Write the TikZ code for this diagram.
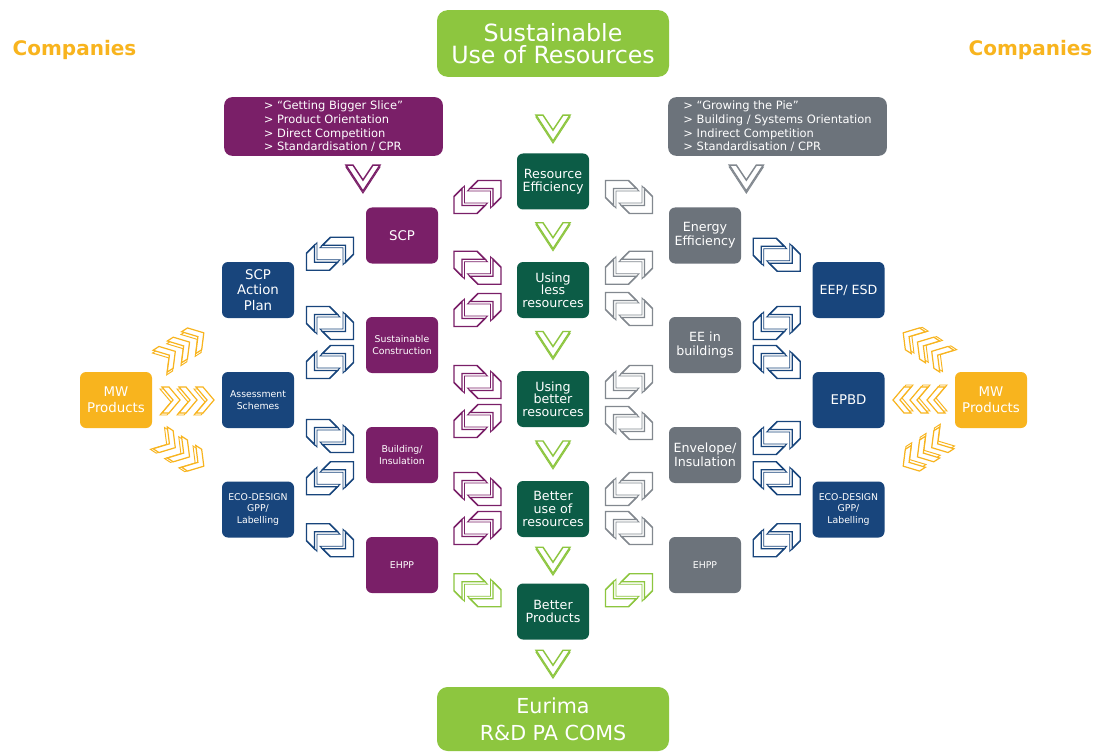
\documentclass[tikz,border=0pt]{standalone}
\usepackage{fontspec}
\setmainfont{DejaVu Sans}
\usetikzlibrary{calc}
\definecolor{cpurple}{RGB}{122,31,104}
\definecolor{cgray}{RGB}{108,115,123}
\definecolor{cgrayl}{RGB}{130,136,143}
\definecolor{cblue}{RGB}{24,69,124}
\definecolor{cdgreen}{RGB}{12,92,70}
\definecolor{clgreen}{RGB}{141,198,63}
\definecolor{corange}{RGB}{248,180,30}
\tikzset{
  bx/.style={rounded corners=4.5pt, minimum width=54pt, minimum height=42pt, inner sep=0pt, text=white, align=center},
  pb/.style={bx, fill=cpurple},
  gb/.style={bx, fill=cgray},
  bb/.style={bx, fill=cblue},
  db/.style={bx, fill=cdgreen},
  ob/.style={bx, fill=corange},
  fc/.style={font=\fontsize{9.5}{9.4}\selectfont},
  fm/.style={font=\fontsize{9.5}{10.5}\selectfont},
  fs/.style={font=\fontsize{7}{8.6}\selectfont},
  bigbox/.style={rounded corners=8pt, fill=clgreen, minimum width=174pt, text=white, align=center, inner sep=0pt},
  topbox/.style={rounded corners=6pt, minimum width=164pt, minimum height=44pt, text=white, align=left, inner sep=0pt, font=\fontsize{8.6}{10.3}\selectfont},
  chv/.style={draw=#1, fill=white, line width=1.1pt, line join=miter},
  shd/.style={draw=#1, fill=white, line width=0.7pt, line join=miter},
}
\newcommand\vchev[2]{%
  \draw[shd=#2] #1 ++(-17,-11) -- ++(7,0) -- ++(10,15) -- ++(10,-15) -- ++(7,0) -- ++(-17,26) -- cycle;
  \draw[chv=#2] #1 ++(-17,-13) -- ++(7,0) -- ++(10,15) -- ++(10,-15) -- ++(7,0) -- ++(-17,26) -- cycle;}
\newcommand\lpiece[1]{%
  \draw[shd=#1] (-2,-14) -- (21,-14) -- (21,3) -- (13,11) -- (13,-6) -- (-10,-6) -- cycle;
  \draw[chv=#1] (0.5,-16.5) -- (23.5,-16.5) -- (23.5,0.5) -- (15.5,8.5) -- (15.5,-8.5) -- (-7.5,-8.5) -- cycle;}
\newcommand\xch[5]{%
  \begin{scope}[shift={($(#1)!.5!(#2)+(0,#5)$)}, xscale=#3]
    \lpiece{#4}
    \begin{scope}[rotate=180]\lpiece{#4}\end{scope}
  \end{scope}}
\newcommand\ochev[1]{%
  \draw[shd=corange] #1 ++(-11,-11) -- ++(7,0) -- ++(11,13) -- ++(-11,13) -- ++(-7,0) -- ++(11,-13) -- cycle;
  \draw[chv=corange, line width=0.9pt] #1 ++(-9,-13) -- ++(7,0) -- ++(11,13) -- ++(-11,13) -- ++(-7,0) -- ++(11,-13) -- cycle;}
\newcommand\ogroup[3]{%
  \begin{scope}[shift={($(#1)+#2$)}, rotate=#3]
    \ochev{(-17,0)} \ochev{(0,0)} \ochev{(17,0)}
  \end{scope}}
\begin{document}
\begin{tikzpicture}[x=0.75pt,y=-0.75pt]
\useasboundingbox (0,0) rectangle (1098,752);
\fill[white] (0,0) rectangle (1098,752);

% headings
\node[text=corange, font=\bfseries\fontsize{15}{15}\selectfont] (compL) at (74.5,50) {Companies};
\node[text=corange, font=\bfseries\fontsize{15}{15}\selectfont] (compR) at (1030.5,50) {Companies};
\node[bigbox, minimum height=50pt, font=\fontsize{17.8}{16.5}\selectfont] (title) at (553,43.5) {Sustainable\\Use of Resources};
\node[bigbox, minimum height=48pt, font=\fontsize{15.5}{20}\selectfont] (eurima) at (553,719) {Eurima\\R\&D PA COMS};

\node[topbox, fill=cpurple] (ptop) at (333.5,126.5) {> “Getting Bigger Slice”\\> Product Orientation\\> Direct Competition\\> Standardisation / CPR};
\node[topbox, fill=cgray] (gtop) at (777.5,126.5) {> “Growing the Pie”\\> Building / Systems Orientation\\> Indirect Competition\\> Standardisation / CPR};

% centre column
\node[db, fc] (RE) at (553,181.5) {Resource\\Efficiency};
\node[db, fc] (UL) at (553,290) {Using\\less\\resources};
\node[db, fc] (UB) at (553,399) {Using\\better\\resources};
\node[db, fc] (BU) at (553,509) {Better\\use of\\resources};
\node[db, fc] (BP) at (553,611.5) {Better\\Products};

% purple column
\node[pb, font=\fontsize{10}{11}\selectfont] (SCP) at (402,235.5) {SCP};
\node[pb, fs] (SC) at (402,345) {Sustainable\\Construction};
\node[pb, fs] (BI) at (402,455) {Building/\\Insulation};
\node[pb, fs] (EHPPp) at (402,565) {EHPP};

% gray column
\node[gb, fm] (EE) at (705,235.5) {Energy\\Efficiency};
\node[gb, fm] (EEB) at (705,345) {EE in\\buildings};
\node[gb, fm] (EI) at (705,455) {Envelope/\\Insulation};
\node[gb, fs] (EHPPg) at (705,565) {EHPP};

% blue columns
\node[bb, font=\fontsize{10}{11.5}\selectfont] (SCPAP) at (258,290) {SCP\\Action\\Plan};
\node[bb, fs] (AS) at (258,400) {Assessment\\Schemes};
\node[bb, fs] (ECOL) at (258,509.5) {ECO-DESIGN\\GPP/\\Labelling};
\node[bb, fm] (EEP) at (848.5,290) {EEP/ ESD};
\node[bb, font=\fontsize{10}{11}\selectfont] (EPBD) at (848.5,400) {EPBD};
\node[bb, fs] (ECOR) at (848.5,509.5) {ECO-DESIGN\\GPP/\\Labelling};

% MW products
\node[ob, font=\fontsize{10}{12}\selectfont] (MWL) at (116,400) {MW\\Products};
\node[ob, font=\fontsize{10}{12}\selectfont] (MWR) at (991,400) {MW\\Products};

% down chevrons
\vchev{($(title.south)!0.67!(RE.north)$)}{clgreen}
\vchev{($(RE.south)!0.5!(UL.north)$)}{clgreen}
\vchev{($(UL.south)!0.5!(UB.north)$)}{clgreen}
\vchev{($(UB.south)!0.5!(BU.north)$)}{clgreen}
\vchev{($(BU.south)!0.5!(BP.north)$)}{clgreen}
\vchev{($(BP.south)!0.5!(eurima.north)$)}{clgreen}
\vchev{($(ptop.south)!0.43!(SCP.north)$)}{cpurple}
\vchev{($(gtop.south)!0.43!(EE.north)$)}{cgrayl}

% exchange connectors: left blue
\xch{SCPAP}{SCP}{1}{cblue}{-9}
\xch{SCPAP}{SC}{-1}{cblue}{5.5}
\xch{AS}{SC}{1}{cblue}{-10.5}
\xch{AS}{BI}{-1}{cblue}{8.5}
\xch{ECOL}{BI}{1}{cblue}{-4}
\xch{ECOL}{EHPPp}{-1}{cblue}{3}
% purple to centre
\xch{SCP}{RE}{1}{cpurple}{-11.5}
\xch{SCP}{UL}{-1}{cpurple}{5}
\xch{SC}{UL}{1}{cpurple}{-7.5}
\xch{SC}{UB}{-1}{cpurple}{10}
\xch{BI}{UB}{1}{cpurple}{-6}
\xch{BI}{BU}{-1}{cpurple}{7}
\xch{EHPPp}{BU}{1}{cpurple}{-9}
\xch{EHPPp}{BP}{-1}{clgreen}{2}
% centre to gray
\xch{RE}{EE}{-1}{cgrayl}{-11.5}
\xch{UL}{EE}{1}{cgrayl}{5}
\xch{UL}{EEB}{-1}{cgrayl}{-8.5}
\xch{UB}{EEB}{1}{cgrayl}{10}
\xch{UB}{EI}{-1}{cgrayl}{-4}
\xch{BU}{EI}{1}{cgrayl}{7}
\xch{BU}{EHPPg}{-1}{cgrayl}{-9}
\xch{BP}{EHPPg}{1}{clgreen}{2}
% right blue
\xch{EE}{EEP}{-1}{cblue}{-8}
\xch{EEB}{EEP}{1}{cblue}{5.5}
\xch{EEB}{EPBD}{-1}{cblue}{-10.5}
\xch{EI}{EPBD}{1}{cblue}{10.5}
\xch{EI}{ECOR}{-1}{cblue}{-4}
\xch{EHPPg}{ECOR}{1}{cblue}{3}

% orange chevron groups
\ogroup{MWL}{(66,-53)}{33}
\ogroup{MWL}{(72,0)}{0}
\ogroup{MWL}{(66,52)}{-33}
\ogroup{MWR}{(-66,-53)}{147}
\ogroup{MWR}{(-72,0)}{180}
\ogroup{MWR}{(-66,52)}{213}
\end{tikzpicture}
\end{document}
